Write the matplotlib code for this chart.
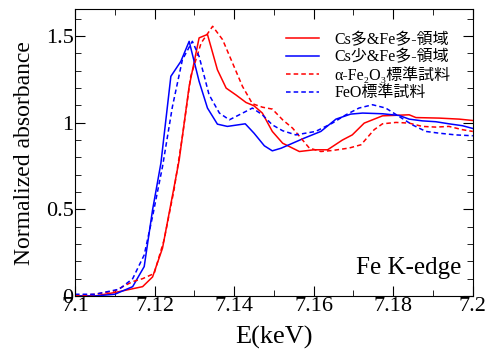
import matplotlib
matplotlib.use('Agg')
import matplotlib.pyplot as plt
from matplotlib.ticker import MultipleLocator, FuncFormatter

plt.rcParams['font.family'] = ['Liberation Serif', 'Noto Sans CJK JP', 'DejaVu Serif']

# data
e_cs_many = [7.100, 7.105, 7.110, 7.117, 7.1195, 7.122, 7.1262, 7.1287, 7.1312, 7.1333,
             7.1358, 7.138, 7.1405, 7.143, 7.145, 7.1471, 7.1496, 7.1522, 7.1564, 7.1601,
             7.1635, 7.1672, 7.1697, 7.1727, 7.1773, 7.184, 7.1857, 7.1915, 7.1966, 7.200]
a_cs_many = [0.00, 0.00, 0.02, 0.054, 0.11, 0.276, 0.786, 1.21, 1.49, 1.51,
             1.306, 1.20, 1.16, 1.117, 1.098, 1.056, 0.95, 0.882, 0.834, 0.844,
             0.844, 0.90, 0.93, 0.998, 1.04, 1.046, 1.03, 1.027, 1.021, 1.013]

e_cs_few = [7.100, 7.105, 7.110, 7.1145, 7.1174, 7.1195, 7.1216, 7.1241, 7.1266, 7.1287,
            7.1312, 7.1333, 7.1358, 7.1383, 7.1428, 7.145, 7.1476, 7.1496, 7.1518, 7.1538,
            7.1576, 7.1618, 7.1656, 7.1693, 7.1723, 7.1773, 7.1815, 7.184, 7.1873, 7.1907,
            7.194, 7.1974, 7.200]
a_cs_few = [0.00, 0.00, 0.01, 0.054, 0.17, 0.497, 0.767, 1.268, 1.354, 1.47,
            1.239, 1.085, 0.992, 0.979, 0.994, 0.94, 0.867, 0.838, 0.853, 0.873,
            0.911, 0.95, 1.021, 1.05, 1.056, 1.052, 1.042, 1.021, 1.011, 1.006,
            0.994, 0.983, 0.967]

e_fe2o3 = [7.100, 7.105, 7.110, 7.1145, 7.117, 7.1199, 7.1224, 7.1249, 7.127, 7.1291,
           7.1317, 7.1346, 7.1371, 7.1396, 7.1421, 7.1446, 7.1471, 7.1496, 7.1522, 7.1547,
           7.1589, 7.1618, 7.1647, 7.1689, 7.1719, 7.1752, 7.1773, 7.1807, 7.184, 7.1873,
           7.1907, 7.194, 7.1974, 7.200]
a_fe2o3 = [0.00, 0.01, 0.03, 0.083, 0.10, 0.13, 0.324, 0.613, 0.921, 1.268,
           1.46, 1.557, 1.48, 1.345, 1.21, 1.11, 1.09, 1.079, 1.017, 0.969,
           0.854, 0.834, 0.84, 0.854, 0.873, 0.96, 0.994, 1.002, 0.998, 0.979,
           0.975, 0.979, 0.96, 0.95]

e_feo = [7.100, 7.105, 7.1111, 7.1145, 7.1174, 7.1195, 7.122, 7.1245, 7.127, 7.1295,
         7.1312, 7.1337, 7.1363, 7.1388, 7.1413, 7.1446, 7.1471, 7.1496, 7.1522, 7.1555,
         7.1605, 7.1647, 7.1681, 7.1714, 7.1748, 7.1781, 7.1815, 7.1848, 7.1882, 7.1915,
         7.1957, 7.200]
a_feo = [0.01, 0.01, 0.039, 0.10, 0.237, 0.459, 0.747, 1.094, 1.364, 1.47,
         1.383, 1.162, 1.056, 1.017, 1.046, 1.085, 1.046, 0.988, 0.954, 0.93,
         0.95, 0.998, 1.046, 1.085, 1.104, 1.085, 1.036, 0.988, 0.95, 0.94,
         0.93, 0.925]

labels = ['Cs多&Fe多-領域', 'Cs少&Fe多-領域',
          'α-Fe₂O₃標準試料', 'FeO標準試料']

fig = plt.figure(figsize=(4.92, 3.51), dpi=100)
ax = fig.add_axes([0.1524, 0.1567, 0.8086, 0.8168])

ax.plot(e_cs_many, a_cs_many, color='red', lw=1.1, label=labels[0])
ax.plot(e_cs_few, a_cs_few, color='blue', lw=1.1, label=labels[1])
ax.plot(e_fe2o3, a_fe2o3, color='red', lw=1.1, ls=(0, (3, 2)), label=labels[2])
ax.plot(e_feo, a_feo, color='blue', lw=1.1, ls=(0, (3, 2)), label=labels[3])

ax.set_xlim(7.1, 7.2)
ax.set_ylim(0, 1.655)
ax.xaxis.set_major_locator(MultipleLocator(0.02))
ax.xaxis.set_minor_locator(MultipleLocator(0.01))
ax.yaxis.set_major_locator(MultipleLocator(0.5))
ax.yaxis.set_minor_locator(MultipleLocator(0.1))
ax.xaxis.set_major_formatter(FuncFormatter(lambda v, p: '%g' % round(v, 3)))
ax.yaxis.set_major_formatter(FuncFormatter(lambda v, p: '%g' % round(v, 2)))
ax.tick_params(which='both', direction='in', top=True, right=True, labelsize=16)
ax.tick_params(which='major', length=7, pad=1)
ax.tick_params(which='minor', length=4)

ax.set_xlabel('E(keV)', fontsize=19, labelpad=7)
ax.set_ylabel('Normalized absorbance', fontsize=17, labelpad=8)

ax.text(0.97, 0.098, 'Fe K-edge', transform=ax.transAxes, fontsize=18,
        ha='right', va='center')

ax.legend(loc='upper right', frameon=False, fontsize=11.5, handlelength=2.1,
          labelspacing=0.1, handletextpad=0.95, borderaxespad=0.0,
          bbox_to_anchor=(0.96, 0.944))

fig.savefig('out.png', dpi=100)
